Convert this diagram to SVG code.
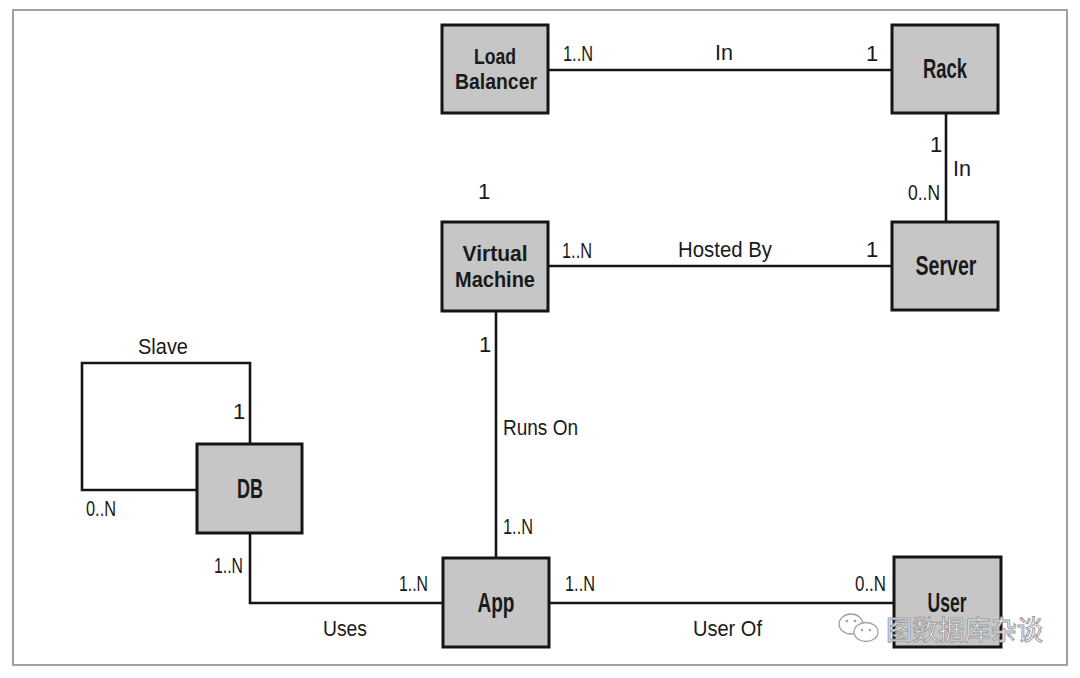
<svg xmlns="http://www.w3.org/2000/svg" width="1080" height="678" viewBox="0 0 1080 678">
<style>
.frame{fill:none;stroke:#8a8a8a;stroke-width:1.6}
.box{fill:#c6c6c6;stroke:#151515;stroke-width:3}
.lbl{font-family:"Liberation Sans",Arial,sans-serif;font-size:27px;font-weight:bold;fill:#1a1a1a;text-anchor:middle}
.lbl2{font-family:"Liberation Sans",Arial,sans-serif;font-size:22px;font-weight:bold;fill:#1a1a1a;text-anchor:middle}
.edge{fill:none;stroke:#151515;stroke-width:2.6}
.t{font-family:"Liberation Sans",Arial,sans-serif;font-size:22px;fill:#1a1a1a}
.wm{font-family:"Noto Sans CJK SC","Liberation Sans",sans-serif;font-size:27px;fill:#ffffff;stroke:#9a9a9a;stroke-width:1}
</style>
<rect width="1080" height="678" fill="#ffffff"/>
<rect class="frame" x="13" y="10" width="1054" height="655"/>

<g id="connectors">
<line class="edge" x1="548" y1="70" x2="892" y2="70"/>
<line class="edge" x1="946" y1="113" x2="946" y2="222"/>
<line class="edge" x1="548" y1="266" x2="892" y2="266"/>
<line class="edge" x1="496" y1="311" x2="496" y2="558"/>
<line class="edge" x1="549" y1="603" x2="894" y2="603"/>
<polyline class="edge" points="250,533 250,603 443,603"/>
<polyline class="edge" points="250,444 250,363 82,363 82,490 197,490"/>
</g>

<g id="edge-labels">
<text class="t" x="563" y="61" textLength="30" lengthAdjust="spacingAndGlyphs">1..N</text>
<text class="t" x="715" y="60" textLength="18" lengthAdjust="spacingAndGlyphs">In</text>
<text class="t" x="866" y="61">1</text>
<text class="t" x="930" y="152">1</text>
<text class="t" x="953" y="176" textLength="18" lengthAdjust="spacingAndGlyphs">In</text>
<text class="t" x="908" y="200" textLength="32" lengthAdjust="spacingAndGlyphs">0..N</text>
<text class="t" x="866" y="257">1</text>
<text class="t" x="478" y="199">1</text>
<text class="t" x="562" y="258" textLength="30" lengthAdjust="spacingAndGlyphs">1..N</text>
<text class="t" x="678" y="257" textLength="94" lengthAdjust="spacingAndGlyphs">Hosted By</text>
<text class="t" x="479" y="352">1</text>
<text class="t" x="503" y="435" textLength="75" lengthAdjust="spacingAndGlyphs">Runs On</text>
<text class="t" x="503" y="534" textLength="30" lengthAdjust="spacingAndGlyphs">1..N</text>
<text class="t" x="399" y="591" textLength="29" lengthAdjust="spacingAndGlyphs">1..N</text>
<text class="t" x="565" y="591" textLength="30" lengthAdjust="spacingAndGlyphs">1..N</text>
<text class="t" x="855" y="591" textLength="31" lengthAdjust="spacingAndGlyphs">0..N</text>
<text class="t" x="323" y="636" textLength="44" lengthAdjust="spacingAndGlyphs">Uses</text>
<text class="t" x="693" y="636" textLength="69" lengthAdjust="spacingAndGlyphs">User Of</text>
<text class="t" x="214" y="573" textLength="29" lengthAdjust="spacingAndGlyphs">1..N</text>
<text class="t" x="86" y="516" textLength="30" lengthAdjust="spacingAndGlyphs">0..N</text>
<text class="t" x="233" y="419">1</text>
<text class="t" x="138" y="354" textLength="50" lengthAdjust="spacingAndGlyphs">Slave</text>
</g>

<g id="node-loadbalancer">
<rect class="box" x="442" y="25" width="106" height="88"/>
<text class="lbl2" x="495" y="64" textLength="42" lengthAdjust="spacingAndGlyphs">Load</text>
<text class="lbl2" x="496" y="89" textLength="82" lengthAdjust="spacingAndGlyphs">Balancer</text>
</g>
<g id="node-rack">
<rect class="box" x="892" y="25" width="106" height="88"/>
<text class="lbl" x="945" y="78" textLength="44" lengthAdjust="spacingAndGlyphs">Rack</text>
</g>
<g id="node-server">
<rect class="box" x="892" y="222" width="106" height="88"/>
<text class="lbl" x="946" y="275" textLength="61" lengthAdjust="spacingAndGlyphs">Server</text>
</g>
<g id="node-virtualmachine">
<rect class="box" x="442" y="222" width="106" height="89"/>
<text class="lbl2" x="495" y="261" textLength="65" lengthAdjust="spacingAndGlyphs">Virtual</text>
<text class="lbl2" x="495" y="287" textLength="80" lengthAdjust="spacingAndGlyphs">Machine</text>
</g>
<g id="node-db">
<rect class="box" x="197" y="444" width="105" height="89"/>
<text class="lbl" x="250" y="498" textLength="26" lengthAdjust="spacingAndGlyphs">DB</text>
</g>
<g id="node-app">
<rect class="box" x="443" y="558" width="106" height="89"/>
<text class="lbl" x="496" y="612" textLength="37" lengthAdjust="spacingAndGlyphs">App</text>
</g>
<g id="node-user">
<rect class="box" x="894" y="557" width="107" height="90"/>
<text class="lbl" x="947" y="612" textLength="39" lengthAdjust="spacingAndGlyphs">User</text>
</g>

<g id="watermark">
<ellipse cx="851" cy="624" rx="12" ry="10" fill="#ffffff" stroke="#a0a0a0" stroke-width="1.3"/>
<ellipse cx="866" cy="632" rx="12" ry="9.5" fill="#ffffff" stroke="#a0a0a0" stroke-width="1.3"/>
<circle cx="847" cy="621" r="1.3" fill="#a0a0a0"/>
<circle cx="855" cy="621" r="1.3" fill="#a0a0a0"/>
<circle cx="862" cy="630" r="1.2" fill="#a0a0a0"/>
<circle cx="870" cy="630" r="1.2" fill="#a0a0a0"/>
<text class="wm" x="886" y="640" textLength="157" lengthAdjust="spacingAndGlyphs">图数据库杂谈</text>
</g>
</svg>
